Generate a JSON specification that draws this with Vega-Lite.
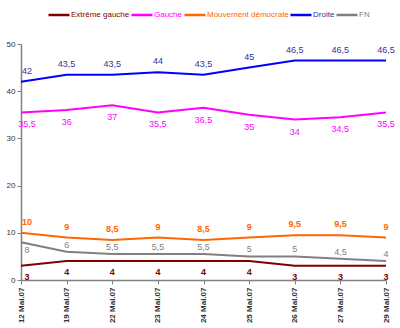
{
  "$schema": "https://vega.github.io/schema/vega-lite/v6.json",
  "width": 365,
  "height": 236,
  "autosize": "none",
  "padding": {"left": 21, "top": 44, "right": 14, "bottom": 48},
  "background": "white",
  "config": {
    "view": {"stroke": null},
    "font": "Liberation Sans",
    "locale": {"number": {"decimal": ",", "thousands": ".", "grouping": [3], "currency": ["", " €"]}}
  },
  "data": {"values": [
    {"date": "12 Mai.07", "party": "Extrême gauche", "v": 3},
    {"date": "19 Mai.07", "party": "Extrême gauche", "v": 4},
    {"date": "22 Mai.07", "party": "Extrême gauche", "v": 4},
    {"date": "23 Mai.07", "party": "Extrême gauche", "v": 4},
    {"date": "24 Mai.07", "party": "Extrême gauche", "v": 4},
    {"date": "25 Mai.07", "party": "Extrême gauche", "v": 4},
    {"date": "26 Mai.07", "party": "Extrême gauche", "v": 3},
    {"date": "27 Mai.07", "party": "Extrême gauche", "v": 3},
    {"date": "29 Mai.07", "party": "Extrême gauche", "v": 3},
    {"date": "12 Mai.07", "party": "Gauche", "v": 35.5},
    {"date": "19 Mai.07", "party": "Gauche", "v": 36},
    {"date": "22 Mai.07", "party": "Gauche", "v": 37},
    {"date": "23 Mai.07", "party": "Gauche", "v": 35.5},
    {"date": "24 Mai.07", "party": "Gauche", "v": 36.5},
    {"date": "25 Mai.07", "party": "Gauche", "v": 35},
    {"date": "26 Mai.07", "party": "Gauche", "v": 34},
    {"date": "27 Mai.07", "party": "Gauche", "v": 34.5},
    {"date": "29 Mai.07", "party": "Gauche", "v": 35.5},
    {"date": "12 Mai.07", "party": "Mouvement démocrate", "v": 10},
    {"date": "19 Mai.07", "party": "Mouvement démocrate", "v": 9},
    {"date": "22 Mai.07", "party": "Mouvement démocrate", "v": 8.5},
    {"date": "23 Mai.07", "party": "Mouvement démocrate", "v": 9},
    {"date": "24 Mai.07", "party": "Mouvement démocrate", "v": 8.5},
    {"date": "25 Mai.07", "party": "Mouvement démocrate", "v": 9},
    {"date": "26 Mai.07", "party": "Mouvement démocrate", "v": 9.5},
    {"date": "27 Mai.07", "party": "Mouvement démocrate", "v": 9.5},
    {"date": "29 Mai.07", "party": "Mouvement démocrate", "v": 9},
    {"date": "12 Mai.07", "party": "Droite", "v": 42},
    {"date": "19 Mai.07", "party": "Droite", "v": 43.5},
    {"date": "22 Mai.07", "party": "Droite", "v": 43.5},
    {"date": "23 Mai.07", "party": "Droite", "v": 44},
    {"date": "24 Mai.07", "party": "Droite", "v": 43.5},
    {"date": "25 Mai.07", "party": "Droite", "v": 45},
    {"date": "26 Mai.07", "party": "Droite", "v": 46.5},
    {"date": "27 Mai.07", "party": "Droite", "v": 46.5},
    {"date": "29 Mai.07", "party": "Droite", "v": 46.5},
    {"date": "12 Mai.07", "party": "FN", "v": 8},
    {"date": "19 Mai.07", "party": "FN", "v": 6},
    {"date": "22 Mai.07", "party": "FN", "v": 5.5},
    {"date": "23 Mai.07", "party": "FN", "v": 5.5},
    {"date": "24 Mai.07", "party": "FN", "v": 5.5},
    {"date": "25 Mai.07", "party": "FN", "v": 5},
    {"date": "26 Mai.07", "party": "FN", "v": 5},
    {"date": "27 Mai.07", "party": "FN", "v": 4.5},
    {"date": "29 Mai.07", "party": "FN", "v": 4}
  ]},
  "encoding": {
    "x": {
      "field": "date", "type": "ordinal", "sort": null,
      "scale": {"type": "point", "padding": 0},
      "axis": {
        "title": null, "labelAngle": -90, "labelFontSize": 8, "labelFontWeight": "bold",
        "labelColor": "#333333", "domainColor": "#808080", "domainWidth": 1.5,
        "tickColor": "#808080", "tickSize": 4, "labelPadding": 3
      }
    },
    "y": {
      "field": "v", "type": "quantitative",
      "scale": {"domain": [0, 50], "nice": false},
      "axis": {
        "title": null, "values": [0, 10, 20, 30, 40, 50], "grid": false,
        "labelFontSize": 8, "labelColor": "#333333", "domainColor": "#808080",
        "domainWidth": 1.5, "tickColor": "#808080", "tickSize": 4, "labelPadding": 2
      }
    }
  },
  "layer": [
    {
      "mark": {"type": "line", "strokeWidth": 2},
      "encoding": {
        "color": {
          "field": "party", "type": "nominal",
          "scale": {
            "domain": ["Extrême gauche", "Gauche", "Mouvement démocrate", "Droite", "FN"],
            "range": ["#800000", "#FF00FF", "#FF6600", "#0000FF", "#808080"]
          },
          "legend": {
            "title": null, "orient": "none", "direction": "horizontal",
            "legendX": 26, "legendY": -41,
            "symbolType": "stroke", "symbolSize": 441, "symbolStrokeWidth": 2.5,
            "labelFontSize": 8, "columnPadding": -6, "symbolOffset": 0, "labelOffset": 0,
            "labelLimit": 200,
            "encode": {"labels": {"update": {"fill": {"signal": "datum.value=='Extrême gauche' ? '#800000' : datum.value=='Gauche' ? '#FF00FF' : datum.value=='Mouvement démocrate' ? '#FF6600' : datum.value=='Droite' ? '#333399' : '#808080'"}}}}
          }
        }
      }
    },
    {
      "mark": {
        "type": "text", "fontSize": 9,
        "dx": {"expr": "datum.date=='12 Mai.07' ? 6 : 0"},
        "dy": {"expr": "datum.party=='Droite' ? -11 : datum.party=='Gauche' ? 12 : datum.party=='Mouvement démocrate' ? -11 : datum.party=='Extrême gauche' ? 11 : (datum.date=='12 Mai.07' ? 8 : -7)"},
        "fontWeight": {"expr": "(datum.party=='Extrême gauche' || datum.party=='Mouvement démocrate') ? 'bold' : 'normal'"}
      },
      "encoding": {
        "text": {"field": "v", "type": "quantitative", "format": ".1~f"},
        "color": {
          "field": "party", "type": "nominal",
          "scale": {
            "domain": ["Extrême gauche", "Gauche", "Mouvement démocrate", "Droite", "FN"],
            "range": ["#800000", "#FF00FF", "#FF6600", "#333399", "#808080"]
          },
          "legend": null
        }
      }
    }
  ],
  "resolve": {"scale": {"color": "independent"}}
}
